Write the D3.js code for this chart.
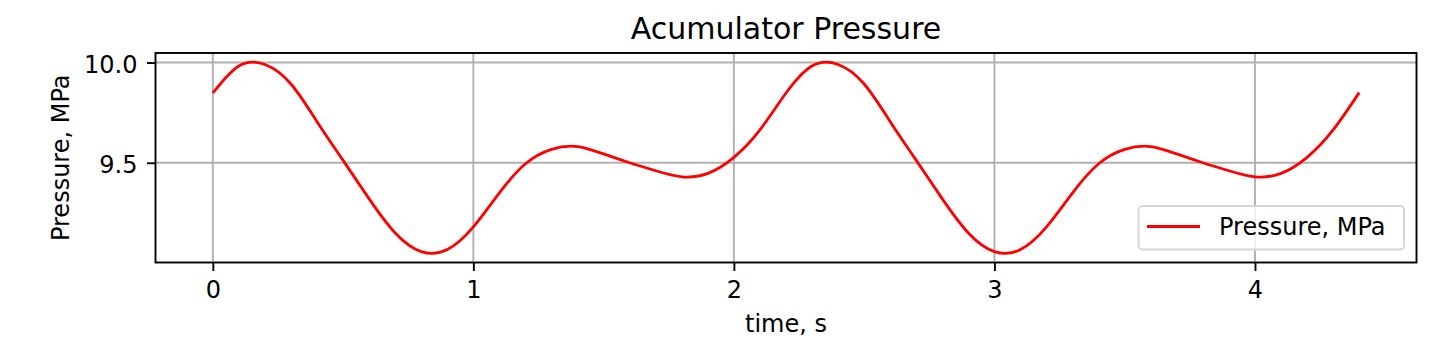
<!DOCTYPE html>
<html>
<head>
<meta charset="utf-8">
<script src="https://cdn.jsdelivr.net/npm/d3@7"></script>
<style>
  html, body { margin: 0; padding: 0; background: #fff; }
  svg { display: block; font-family: "DejaVu Sans", sans-serif; }
</style>
</head>
<body>
<svg id="chart" width="1440" height="352"></svg>
<script>
const time = [
  0.0, 0.1, 0.2, 0.3, 0.4, 0.5, 0.6, 0.7, 0.8, 0.9, 1.0, 1.1, 1.2, 1.3, 1.4, 1.5, 1.6, 1.7, 1.8, 1.9, 2.0, 2.1,
  2.2, 2.3, 2.4, 2.5, 2.6, 2.7, 2.8, 2.9, 3.0, 3.1, 3.2, 3.3, 3.4, 3.5, 3.6, 3.7, 3.8, 3.9, 4.0, 4.1, 4.2, 4.3, 4.4
];
const pressure = [
  9.848, 9.983, 9.990, 9.893, 9.705, 9.512, 9.320, 9.150, 9.057, 9.067, 9.180, 9.350, 9.495, 9.567, 9.581, 9.544, 9.500, 9.460, 9.430, 9.447, 9.527, 9.664,
  9.848, 9.983, 9.990, 9.893, 9.705, 9.512, 9.320, 9.150, 9.057, 9.067, 9.180, 9.350, 9.495, 9.567, 9.581, 9.544, 9.500, 9.460, 9.430, 9.447, 9.527, 9.664, 9.850
];
const xTicks = [0, 1, 2, 3, 4];
const yTicks = [9.5, 10.0];
const titleText = "Acumulator Pressure";
const xLabel = "time, s";
const yLabel = "Pressure, MPa";
const seriesName = "Pressure, MPa";

// ---- layout ----
const svg = d3.select("#chart");
const L = 155.5, R = 1416.5, T = 53, B = 262.5;

const xMin = d3.min(time), xMax = d3.max(time);
const xPad = (xMax - xMin) * 0.05;
const yMinV = 9.05, yMaxV = 10.0; // visible extent of the curve
const yPad = (yMaxV - yMinV) * 0.05;

const x = d3.scaleLinear().domain([xMin - xPad, xMax + xPad]).range([L, R]);
const y = d3.scaleLinear().domain([yMinV - yPad, yMaxV + yPad]).range([B, T]);

// grid
const grid = svg.append("g");
grid.selectAll("line.gx").data(xTicks).join("line")
  .attr("x1", d => x(d)).attr("x2", d => x(d))
  .attr("y1", T).attr("y2", B)
  .attr("stroke", "#b0b0b0").attr("stroke-width", 1.9);
grid.selectAll("line.gy").data(yTicks).join("line")
  .attr("x1", L).attr("x2", R)
  .attr("y1", d => y(d)).attr("y2", d => y(d))
  .attr("stroke", "#b0b0b0").attr("stroke-width", 1.9);

// line
const pts = time.map((t, i) => [t, pressure[i]]);
const line = d3.line().x(d => x(d[0])).y(d => y(d[1])).curve(d3.curveNatural);
svg.append("path").datum(pts)
  .attr("d", line)
  .attr("fill", "none")
  .attr("stroke", "#ff0000")
  .attr("stroke-width", 2.8)
  .attr("stroke-linejoin", "round")
  .attr("stroke-linecap", "butt");

// axes
const xAxis = d3.axisBottom(x).tickValues(xTicks).tickFormat(d3.format("d")).tickSize(8.5).tickPadding(9.5);
const yAxis = d3.axisLeft(y).tickValues(yTicks).tickFormat(d3.format(".1f")).tickSize(8.5).tickPadding(9.5);

const gx = svg.append("g").attr("transform", `translate(0,${B})`).call(xAxis);
const gy = svg.append("g").attr("transform", `translate(${L},0)`).call(yAxis);
[gx, gy].forEach(g => {
  g.select(".domain").remove();
  g.selectAll(".tick line").attr("stroke", "#000").attr("stroke-width", 1.9);
  g.selectAll(".tick text").attr("fill", "#000").style("font-size", "24px")
    .style("font-family", '"DejaVu Sans", sans-serif');
});
gx.selectAll(".tick text").attr("dy", "0.74em");
gy.selectAll(".tick text").attr("dy", "0.40em");

// spines
svg.append("rect")
  .attr("x", L).attr("y", T).attr("width", R - L).attr("height", B - T)
  .attr("fill", "none").attr("stroke", "#000").attr("stroke-width", 1.9);

// legend
const lg = svg.append("g");
lg.append("rect")
  .attr("x", 1138.5).attr("y", 206).attr("width", 265.5).attr("height", 43.5)
  .attr("rx", 4).attr("ry", 4)
  .attr("fill", "#fff").attr("fill-opacity", 0.8)
  .attr("stroke", "#d6d6d6").attr("stroke-width", 1.9);
lg.append("line")
  .attr("x1", 1147).attr("x2", 1200).attr("y1", 226.5).attr("y2", 226.5)
  .attr("stroke", "#ff0000").attr("stroke-width", 2.8);
lg.append("text")
  .attr("x", 1219).attr("y", 235)
  .style("font-size", "24px").attr("fill", "#000")
  .text(seriesName);

// title & labels
svg.append("text")
  .attr("x", (L + R) / 2).attr("y", 38.5)
  .attr("text-anchor", "middle")
  .style("font-size", "30px").attr("fill", "#000")
  .text(titleText);
svg.append("text")
  .attr("x", (L + R) / 2).attr("y", 332)
  .attr("text-anchor", "middle")
  .style("font-size", "24px").attr("fill", "#000")
  .text(xLabel);
svg.append("text")
  .attr("transform", `translate(68.5,${(T + B) / 2}) rotate(-90)`)
  .attr("text-anchor", "middle")
  .style("font-size", "24px").attr("fill", "#000")
  .text(yLabel);
</script>
</body>
</html>
